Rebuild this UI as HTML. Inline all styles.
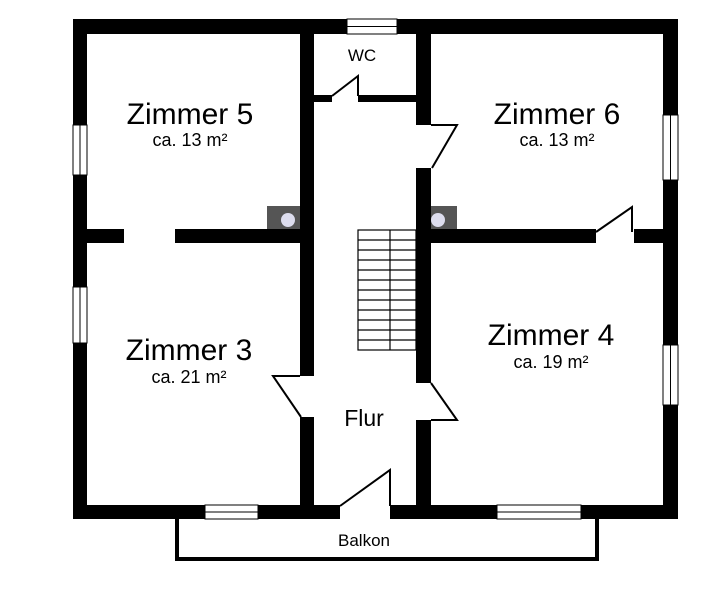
<!DOCTYPE html>
<html><head><style>body{margin:0;background:#fff}svg{display:block}text{font-family:"Liberation Sans",Arial,sans-serif;fill:#000;text-anchor:middle}</style></head><body>
<svg width="709" height="591" viewBox="0 0 709 591" xmlns="http://www.w3.org/2000/svg">
<g fill="#000">
<rect x="73" y="19" width="605" height="15"/>
<rect x="73" y="19" width="14" height="500"/>
<rect x="663" y="19" width="15" height="500"/>
<rect x="73" y="505" width="267" height="14"/>
<rect x="390" y="505" width="288" height="14"/>
<rect x="300" y="34" width="14" height="342"/>
<rect x="300" y="417" width="14" height="90"/>
<rect x="416" y="34" width="15" height="91"/>
<rect x="416" y="168" width="15" height="215"/>
<rect x="416" y="420" width="15" height="87"/>
<rect x="314" y="95" width="18" height="7"/>
<rect x="358" y="95" width="58" height="7"/>
<rect x="87" y="229" width="37" height="14"/>
<rect x="175" y="229" width="125" height="14"/>
<rect x="431" y="229" width="165" height="14"/>
<rect x="634" y="229" width="29" height="14"/>
</g>
<g fill="#fff" stroke="#000" stroke-width="1">
<rect x="347" y="19" width="50" height="15"/><line x1="347" y1="26.5" x2="397" y2="26.5"/>
<rect x="73" y="125" width="14" height="50"/><line x1="80" y1="125" x2="80" y2="175"/>
<rect x="73" y="287" width="14" height="56"/><line x1="80" y1="287" x2="80" y2="343"/>
<rect x="663" y="115" width="15" height="65"/><line x1="670.5" y1="115" x2="670.5" y2="180"/>
<rect x="663" y="345" width="15" height="60"/><line x1="670.5" y1="345" x2="670.5" y2="405"/>
<rect x="205" y="505" width="53" height="14"/><line x1="205" y1="512" x2="258" y2="512"/>
<rect x="497" y="505" width="84" height="14"/><line x1="497" y1="512" x2="581" y2="512"/>
</g>
<rect x="267" y="206" width="33" height="23" fill="#555"/><circle cx="288" cy="220" r="7" fill="#dde"/>
<rect x="431" y="206" width="26" height="23" fill="#555"/><circle cx="438" cy="220" r="7" fill="#dde"/>
<g fill="none" stroke="#000" stroke-width="2">
<polyline points="332,96 358,76 358,96"/>
<polyline points="431,125 457,125 432,168"/>
<polyline points="596,232 632,207 632,232"/>
<polyline points="300,376 273,376 301,417"/>
<polyline points="431,383 457,420 431,420"/>
<polyline points="340,506 390,470 390,506"/>
</g>
<g fill="none" stroke="#000" stroke-width="1.2">
<rect x="358" y="230" width="58" height="120"/>
<line x1="390" y1="230" x2="390" y2="350"/>
<line x1="358" y1="240" x2="416" y2="240"/><line x1="358" y1="250" x2="416" y2="250"/><line x1="358" y1="260" x2="416" y2="260"/><line x1="358" y1="270" x2="416" y2="270"/><line x1="358" y1="280" x2="416" y2="280"/><line x1="358" y1="290" x2="416" y2="290"/><line x1="358" y1="300" x2="416" y2="300"/><line x1="358" y1="310" x2="416" y2="310"/><line x1="358" y1="320" x2="416" y2="320"/><line x1="358" y1="330" x2="416" y2="330"/><line x1="358" y1="340" x2="416" y2="340"/>
</g>
<polyline points="177,519 177,559 597,559 597,519" fill="none" stroke="#000" stroke-width="4"/>
<text x="190" y="124" font-size="30">Zimmer 5</text>
<text x="190" y="146" font-size="18">ca. 13 m²</text>
<text x="557" y="124" font-size="30">Zimmer 6</text>
<text x="557" y="146" font-size="18">ca. 13 m²</text>
<text x="189" y="360" font-size="30">Zimmer 3</text>
<text x="189" y="383" font-size="18">ca. 21 m²</text>
<text x="551" y="345" font-size="30">Zimmer 4</text>
<text x="551" y="368" font-size="18">ca. 19 m²</text>
<text x="364" y="426" font-size="23">Flur</text>
<text x="362" y="61" font-size="17">WC</text>
<text x="364" y="546" font-size="17">Balkon</text>
</svg>
</body></html>
